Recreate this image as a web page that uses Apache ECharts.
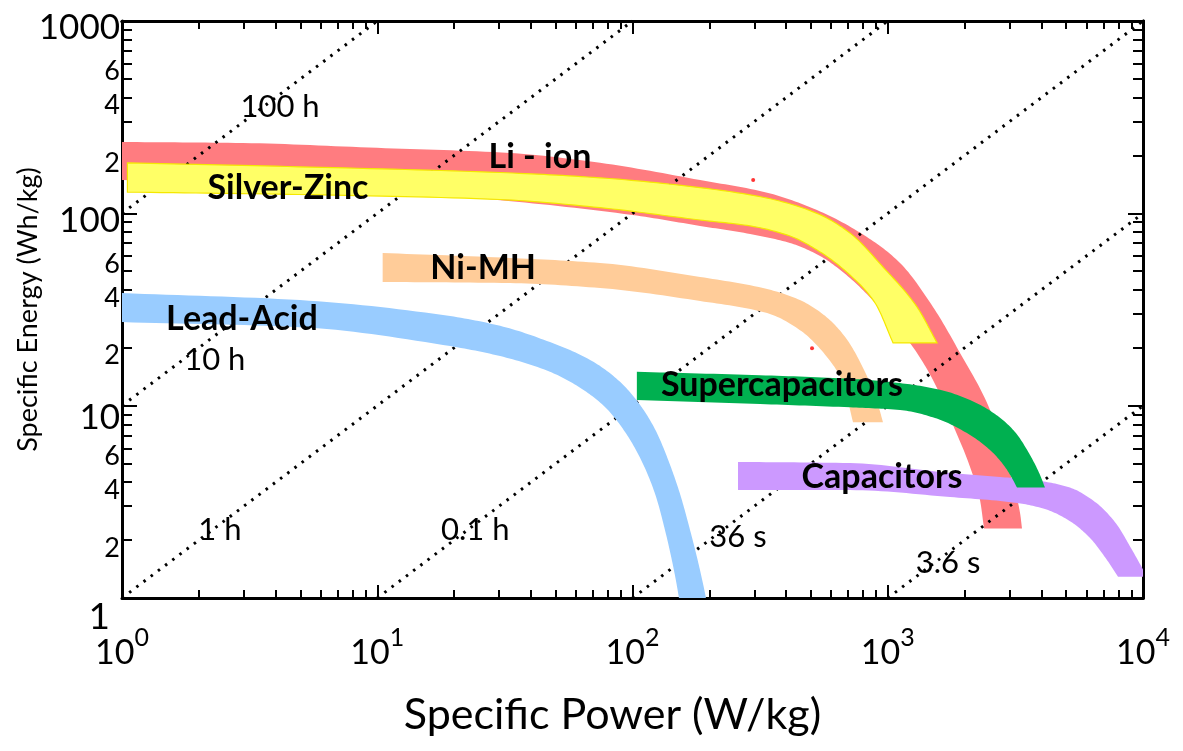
<!DOCTYPE html>
<html>
<head>
<meta charset="utf-8">
<script src="https://cdn.jsdelivr.net/npm/echarts@6/dist/echarts.min.js"></script>
<style>
  html, body { margin: 0; padding: 0; background: #fff; }
  #chart { width: 1183px; height: 751px; }
</style>
</head>
<body>
<div id="chart"></div>
<script>
// axis ticks / labels
const xTickValues = [1,2,3,4,5,6,7,8,9,10,20,30,40,50,60,70,80,90,100,200,300,400,500,600,700,800,900,1000,2000,3000,4000,5000,6000,7000,8000,9000,10000];
const xMajorTicks = [1,10,100,1000,10000];
const xLabelValues = [1,10,100,1000,10000];
const xLabelExponents = ['0','1','2','3','4'];
const yTickValues = [1,2,3,4,5,6,7,8,9,10,20,30,40,50,60,70,80,90,100,200,300,400,500,600,700,800,900,1000];
const yMajorTicks = [1,10,100,1000];
const yLabelValues = [1,2,4,6,10,20,40,60,100,200,400,600,1000];

// bands: [specific power W/kg, specific energy Wh/kg] along each edge
const liIonUpper = [[1,235],[2.98,232],[9.98,219],[33.1,206],[74.6,183],[184,149],[337,128],[528,104],[829,75.3],[1117,55.2],[1504,32.6],[1919,18.8],[2516,9.5],[3013,4.47],[3298,2.77],[3357,2.3]];
const liIonLower = [[1,149],[4.98,140],[30.3,117],[100,98],[184,86],[289,78.1],[414,70.1],[543,60],[711,46.1],[932,32.2],[1222,21.2],[1504,13.6],[1801,7.93],[2101,4.8],[2298,3.23],[2383,2.3]];
const silverZincUpper = [[1.05,183],[5.45,174],[30.3,163],[74.6,153],[184,136],[337,120],[528,100],[711,79],[958,52.6],[1302,32.6],[1560,21.2]];
const silverZincLower = [[1.05,129],[5.45,125],[30.3,118],[74.6,107],[184,92.3],[289,86],[414,76.2],[543,63],[711,47.8],[892,34.2],[1049,21.2]];
const niMHUpper = [[10.5,62.2],[33.1,58.6],[74.6,55.2],[184,46.7],[337,40.4],[453,35.4],[568,29.3],[680,22.8],[814,15],[916,10.1],[958,8.2]];
const niMHLower = [[10.5,44],[33.1,43.4],[74.6,40.9],[184,35],[337,30.3],[453,24.7],[578,17.9],[668,13.1],[731,8.2]];
const leadAcidUpper = [[1,38.5],[4.98,35.4],[18.1,29.6],[30.3,26],[47.5,21.4],[68.2,17.3],[89.4,13.3],[107,10.1],[123,7.47],[138,5.22],[154,3.43],[168,2.26],[182,1.48],[194,1],[201,0.77]];
const leadAcidLower = [[1,27.2],[4.98,25.6],[18.1,20.7],[30.3,18.1],[47.5,15],[62.3,12.4],[78,9.84],[93.5,7.3],[109,5.1],[123,3.43],[134,2.26],[144,1.48],[152,1],[156,0.77]];
const superCapUpper = [[104,15],[316,14.4],[711,13.8],[1117,13.1],[1602,12.1],[2101,10.7],[2632,9.05],[3151,7.3],[3608,5.54],[3951,4.36],[4130,3.75]];
const superCapLower = [[104,10.7],[316,10.2],[711,9.8],[1117,9.5],[1531,8.63],[2007,7.3],[2516,5.88],[2880,4.8],[3095,4.11],[3209,3.75]];
const capUpper = [[259,5.1],[711,5.03],[1754,4.47],[2754,4.26],[3951,4.06],[5176,3.75],[6485,3.16],[7769,2.48],[9056,1.78],[10370,1.29]];
const capLower = [[259,3.64],[711,3.64],[1754,3.35],[3209,3.12],[4130,2.9],[5176,2.51],[6200,2.05],[7098,1.63],[7983,1.29]];

// constant discharge-time lines (end points)
const timeLines = [
  [[1,100],[10,1000]],
  [[1,10],[100,1000]],
  [[1,1],[1000,1000]],
  [[10,1],[10000,1000]],
  [[100,1],[10000,100]],
  [[1000,1],[10000,10]]
];
const timeLabels = ['100 h','10 h','1 h','0.1 h','36 s','3.6 s'];
const timeLabelPos = [[4.16,357],[2.31,17.3],[2.42,2.26],[24.2,2.26],[259,2.08],[1722,1.52]];

const bandNames = ['Li - ion','Silver-Zinc','Ni-MH','Lead-Acid','Supercapacitors','Capacitors'];
const bandNamePos = [[43.4,196],[4.47,135],[26,52],[2.95,28.2],[385,12.8],[950,4.26]];

// stray red specks in the original
const specks = [[297,149],[505,19.9]];

const FONT = 'Lato, "Open Sans", sans-serif';

// monotone cubic (pchip) through projected edge points, x increasing
function smoothEdge(pts) {
  const n = pts.length;
  if (n < 3) return pts;
  const h = [], m = [], t = [];
  for (let i = 0; i < n - 1; i++) {
    h[i] = pts[i + 1][0] - pts[i][0];
    m[i] = (pts[i + 1][1] - pts[i][1]) / h[i];
  }
  t[0] = m[0];
  t[n - 1] = m[n - 2];
  for (let i = 1; i < n - 1; i++) {
    if (m[i - 1] * m[i] <= 0) { t[i] = 0; continue; }
    const w1 = 2 * h[i] + h[i - 1], w2 = h[i] + 2 * h[i - 1];
    t[i] = (w1 + w2) / (w1 / m[i - 1] + w2 / m[i]);
  }
  const out = [];
  for (let i = 0; i < n - 1; i++) {
    const x0 = pts[i][0], y0 = pts[i][1], y1 = pts[i + 1][1];
    const steps = 16;
    for (let s = 0; s < steps; s++) {
      const u = s / steps, u2 = u * u, u3 = u2 * u;
      const y = (2 * u3 - 3 * u2 + 1) * y0 + (u3 - 2 * u2 + u) * h[i] * t[i] +
        (-2 * u3 + 3 * u2) * y1 + (u3 - u2) * h[i] * t[i + 1];
      out.push([x0 + u * h[i], y]);
    }
  }
  out.push(pts[n - 1]);
  return out;
}

function band(name, upper, lower, color, z, stroke) {
  return {
    type: 'custom',
    name: name,
    coordinateSystem: 'cartesian2d',
    clip: true,
    silent: true,
    z: z,
    data: [[1, 1]],
    renderItem: function (params, api) {
      const top = smoothEdge(upper.map(p => api.coord(p)));
      const bot = smoothEdge(lower.map(p => api.coord(p))).reverse();
      return {
        type: 'polygon',
        shape: { points: top.concat(bot) },
        style: { fill: color, stroke: stroke || null, lineWidth: stroke ? 1.2 : 0 }
      };
    }
  };
}

function textSeries(names, positions, fontSize, weight) {
  return {
    type: 'custom',
    coordinateSystem: 'cartesian2d',
    clip: false,
    silent: true,
    z: 10,
    data: positions,
    renderItem: function (params, api) {
      const p = api.coord([api.value(0), api.value(1)]);
      return {
        type: 'text',
        x: p[0], y: p[1],
        style: {
          text: names[params.dataIndex],
          fill: '#000',
          font: weight + ' ' + fontSize + 'px ' + FONT,
          align: 'center',
          verticalAlign: 'middle'
        }
      };
    }
  };
}

const chart = echarts.init(document.getElementById('chart'));

const axisLineStyle = { show: true, lineStyle: { color: '#000', width: 3 } };

function xAx(pos, ticks, len, withLabels) {
  return {
    type: 'log', logBase: 10, min: 1, max: 10000, position: pos,
    axisLine: withLabels ? axisLineStyle : { show: pos === 'top', lineStyle: { color: '#000', width: 3 } },
    axisTick: { show: true, inside: true, length: len, customValues: ticks, lineStyle: { color: '#000', width: 2 } },
    axisLabel: withLabels ? {
      show: true, customValues: xLabelValues, margin: 36,
      formatter: v => '{b|10}{s|' + xLabelExponents[xLabelValues.indexOf(Math.round(v))] + '}',
      rich: {
        b: { fontSize: 34, fontFamily: FONT, color: '#000', lineHeight: 36, verticalAlign: 'bottom' },
        s: { fontSize: 25, fontFamily: FONT, color: '#000', lineHeight: 25, padding: [0, 0, 20, 0], verticalAlign: 'bottom' }
      }
    } : { show: false },
    splitLine: { show: false },
    name: withLabels ? 'Specific Power (W/kg)' : '',
    nameLocation: 'middle', nameGap: 96, nameMoveOverlap: false,
    nameTextStyle: { fontSize: 43, fontFamily: FONT, color: '#000', padding: [0, 40, 0, 0] }
  };
}

function yAx(pos, ticks, len, withLabels) {
  return {
    type: 'log', logBase: 10, min: 1, max: 1000, position: pos,
    axisLine: withLabels || pos === 'right' ? axisLineStyle : { show: false },
    axisTick: { show: true, inside: true, length: len, customValues: ticks, lineStyle: { color: '#000', width: 2 } },
    axisLabel: withLabels ? {
      show: true, customValues: yLabelValues, margin: 2,
      formatter: function (v) {
        const n = Math.round(v);
        if (n === 1) return '{one|1}';
        if (n === 10) return '{ten|10}';
        return yMajorTicks.indexOf(n) >= 0 ? '{big|' + n + '}' : '{small|' + String(n)[0] + '}';
      },
      rich: {
        big: { fontSize: 35, fontFamily: FONT, color: '#000', padding: [14, 0, 0, 0] },
        ten: { fontSize: 35, fontFamily: FONT, color: '#000', padding: [24, 0, 0, 0] },
        one: { fontSize: 37, fontFamily: FONT, color: '#000', padding: [38, 10, 0, 0] },
        small: { fontSize: 27, fontFamily: FONT, color: '#000', padding: [16, 0, 0, 0] }
      }
    } : { show: false },
    splitLine: { show: false },
    name: withLabels ? 'Specific Energy (Wh/kg)' : '',
    nameLocation: 'middle', nameGap: 80, nameRotate: 90, nameMoveOverlap: false,
    nameTextStyle: { fontSize: 27, fontFamily: FONT, color: '#000' }
  };
}

const series = [];
series.push(band('Li - ion', liIonUpper, liIonLower, '#FF7C80', 1));
timeLines.forEach(function (seg, i) {
  series.push({
    type: 'line', name: timeLabels[i], data: seg, symbol: 'none', silent: true, z: 2,
    lineStyle: { color: '#000', width: 3, type: [2.5, 6.5] }
  });
});
series.push(band('Silver-Zinc', silverZincUpper, silverZincLower, '#FFFF66', 3, '#F5E800'));
series.push(band('Ni-MH', niMHUpper, niMHLower, '#FFCC99', 4));
series.push(band('Lead-Acid', leadAcidUpper, leadAcidLower, '#99CCFF', 5));
series.push(band('Capacitors', capUpper, capLower, '#CC99FF', 6));
series.push(band('Supercapacitors', superCapUpper, superCapLower, '#00B050', 7));
series.push({
  type: 'scatter', data: specks, symbolSize: 4, silent: true, z: 8,
  itemStyle: { color: '#FF0000' }
});
series.push(textSeries(bandNames, bandNamePos, 34, 'bold'));
series.push(textSeries(timeLabels, timeLabelPos, 31, 'normal'));

chart.setOption({
  backgroundColor: '#fff',
  animation: false,
  grid: { left: 122, right: 40, top: 21, bottom: 153, outerBoundsMode: 'none', containLabel: false },
  xAxis: [
    xAx('bottom', xTickValues, 8, true),
    xAx('top', xTickValues, 8, false),
    xAx('bottom', xMajorTicks, 13, false),
    xAx('top', xMajorTicks, 13, false)
  ],
  yAxis: [
    yAx('left', yTickValues, 10, true),
    yAx('right', yTickValues, 10, false),
    yAx('left', yMajorTicks, 15, false),
    yAx('right', yMajorTicks, 15, false)
  ],
  series: series
});
</script>
</body>
</html>
